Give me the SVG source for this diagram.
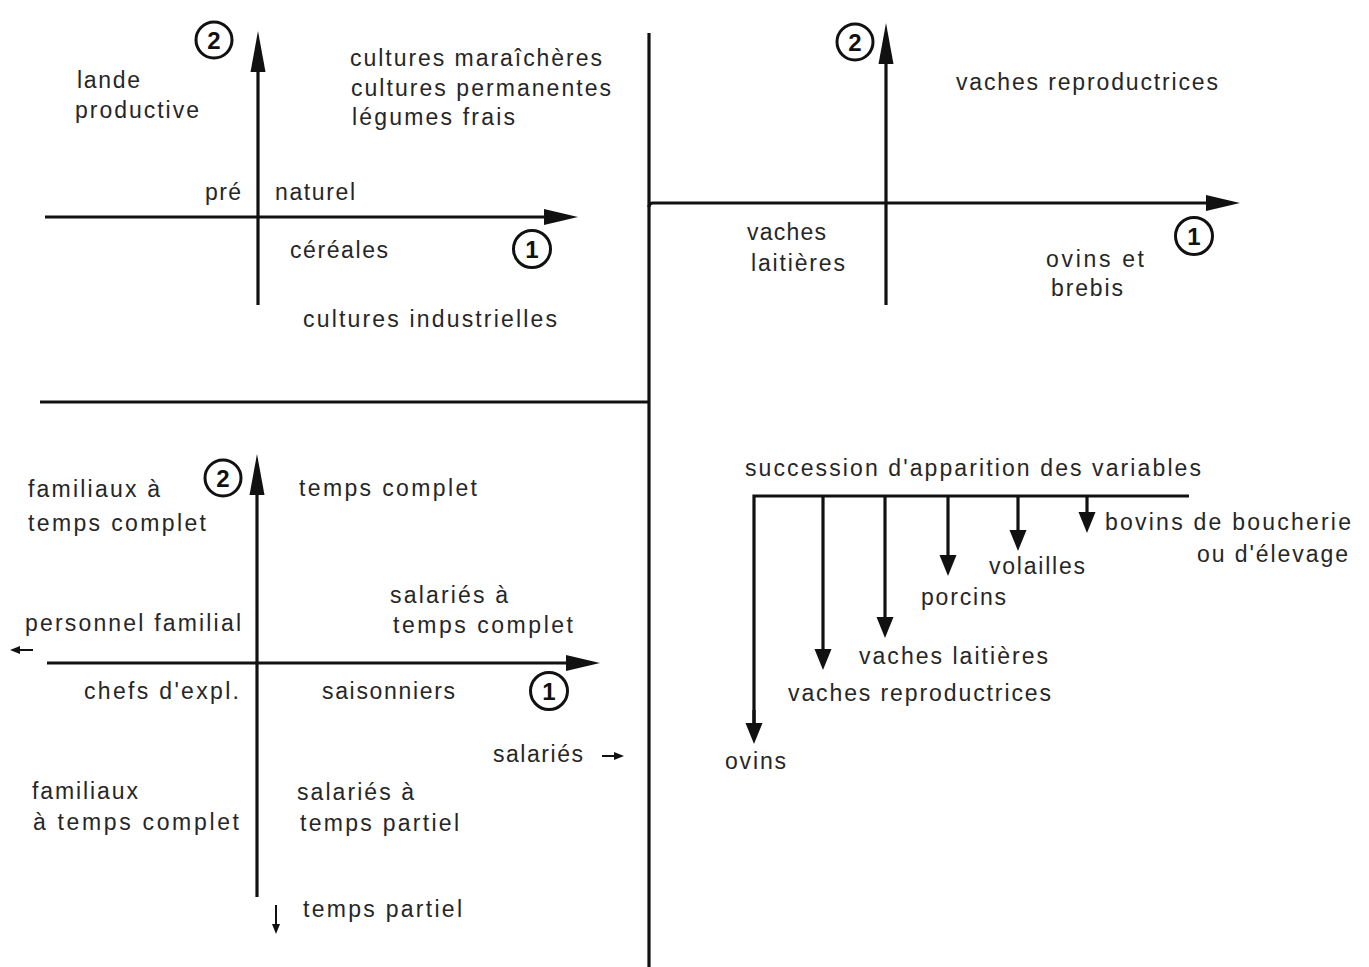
<svg xmlns="http://www.w3.org/2000/svg" width="1369" height="967" viewBox="0 0 1369 967">
<style>
text{font-family:"Liberation Sans",Arial,sans-serif;font-size:23px;fill:#262626}
.num{font-size:24px;font-weight:bold;fill:#111;text-anchor:middle}
.ln{stroke:#111;stroke-width:3.2;fill:none}
.thin{stroke:#111;stroke-width:2;fill:none}
.circ{stroke:#111;stroke-width:3;fill:#fff}
</style>
<defs>
<marker id="ah" markerUnits="userSpaceOnUse" markerWidth="40" markerHeight="20" viewBox="0 -10 40 20" refX="1" refY="0" orient="auto"><path d="M0,-8 L34,0 L0,8 Z" fill="#111"/></marker>
<marker id="av" markerUnits="userSpaceOnUse" markerWidth="44" markerHeight="20" viewBox="0 -10 44 20" refX="1" refY="0" orient="auto"><path d="M0,-7.5 L41,0 L0,7.5 Z" fill="#111"/></marker>
<marker id="drop" markerUnits="userSpaceOnUse" markerWidth="24" markerHeight="20" viewBox="0 -10 24 20" refX="1" refY="0" orient="auto"><path d="M0,-8.5 L21,0 L0,8.5 Z" fill="#111"/></marker>
<marker id="tiny" markerUnits="userSpaceOnUse" markerWidth="12" markerHeight="12" viewBox="0 -6 12 12" refX="1" refY="0" orient="auto"><path d="M0,-4 L10,0 L0,4 Z" fill="#111"/></marker>
</defs>

<g id="connectors">
<path class="ln" d="M649,33 V967"/>
<path class="ln" d="M40,402 H649"/>
<path class="ln" d="M45,217 H545" marker-end="url(#ah)"/>
<path class="ln" d="M258,305 V71" marker-end="url(#av)"/>
<path class="ln" d="M649,207 Q649,203 653,203 H1207" marker-end="url(#ah)"/>
<path class="ln" d="M886,305 V63" marker-end="url(#av)"/>
<path class="ln" d="M47,663 H567" marker-end="url(#ah)"/>
<path class="ln" d="M257,897 V494" marker-end="url(#av)"/>
<path class="thin" d="M33,650 H19" marker-end="url(#tiny)"/>
<path class="thin" d="M602,756 H615" marker-end="url(#tiny)"/>
<path class="thin" d="M276,905 V925" marker-end="url(#tiny)"/>
<path class="ln" d="M754,724 V496 H1189"/>
<path class="ln" d="M754,710 V724" marker-end="url(#drop)"/>
<path class="ln" d="M823,496 V650" marker-end="url(#drop)"/>
<path class="ln" d="M885,496 V618" marker-end="url(#drop)"/>
<path class="ln" d="M948,496 V556" marker-end="url(#drop)"/>
<path class="ln" d="M1018,496 V531" marker-end="url(#drop)"/>
<path class="ln" d="M1087,496 V513" marker-end="url(#drop)"/>
</g>

<g id="axis-labels">
<g id="tl-2"><circle class="circ" cx="214" cy="40" r="18"/><text class="num" x="214" y="48.5">2</text></g>
<g id="tl-1"><circle class="circ" cx="532" cy="249" r="18.5"/><text class="num" x="532" y="257.5">1</text></g>
<g id="tr-2"><circle class="circ" cx="855" cy="42" r="18"/><text class="num" x="855" y="50.5">2</text></g>
<g id="tr-1"><circle class="circ" cx="1194" cy="236" r="18.5"/><text class="num" x="1194" y="244.5">1</text></g>
<g id="bl-2"><circle class="circ" cx="223" cy="478" r="18"/><text class="num" x="223" y="486.5">2</text></g>
<g id="bl-1"><circle class="circ" cx="549" cy="691" r="18.5"/><text class="num" x="549" y="699.5">1</text></g>
</g>

<g id="top-left-labels">
<text x="77" y="88" textLength="63" lengthAdjust="spacing">lande</text>
<text x="75" y="118" textLength="124" lengthAdjust="spacing">productive</text>
<text x="350" y="66" textLength="252" lengthAdjust="spacing">cultures maraîchères</text>
<text x="351" y="96" textLength="260" lengthAdjust="spacing">cultures permanentes</text>
<text x="352" y="125" textLength="163" lengthAdjust="spacing">légumes frais</text>
<text x="205" y="200" textLength="36" lengthAdjust="spacing">pré</text>
<text x="275" y="200" textLength="80" lengthAdjust="spacing">naturel</text>
<text x="290" y="258" textLength="98" lengthAdjust="spacing">céréales</text>
<text x="303" y="327" textLength="254" lengthAdjust="spacing">cultures industrielles</text>
</g>

<g id="top-right-labels">
<text x="956" y="90" textLength="262" lengthAdjust="spacing">vaches reproductrices</text>
<text x="747" y="240" textLength="79" lengthAdjust="spacing">vaches</text>
<text x="751" y="271" textLength="94" lengthAdjust="spacing">laitières</text>
<text x="1046" y="267" textLength="98" lengthAdjust="spacing">ovins et</text>
<text x="1051" y="296" textLength="72" lengthAdjust="spacing">brebis</text>
</g>

<g id="bottom-left-labels">
<text x="28" y="497" textLength="132" lengthAdjust="spacing">familiaux à</text>
<text x="28" y="531" textLength="178" lengthAdjust="spacing">temps complet</text>
<text x="299" y="496" textLength="178" lengthAdjust="spacing">temps complet</text>
<text x="390" y="603" textLength="118" lengthAdjust="spacing">salariés à</text>
<text x="393" y="633" textLength="180" lengthAdjust="spacing">temps complet</text>
<text x="25" y="631" textLength="216" lengthAdjust="spacing">personnel familial</text>
<text x="84" y="699" textLength="155" lengthAdjust="spacing">chefs d'expl.</text>
<text x="322" y="699" textLength="133" lengthAdjust="spacing">saisonniers</text>
<text x="493" y="762" textLength="90" lengthAdjust="spacing">salariés</text>
<text x="32" y="799" textLength="106" lengthAdjust="spacing">familiaux</text>
<text x="33" y="830" textLength="206" lengthAdjust="spacing">à temps complet</text>
<text x="297" y="800" textLength="117" lengthAdjust="spacing">salariés à</text>
<text x="300" y="831" textLength="159" lengthAdjust="spacing">temps partiel</text>
<text x="303" y="917" textLength="159" lengthAdjust="spacing">temps partiel</text>
</g>

<g id="succession-labels">
<text x="745" y="476" textLength="456" lengthAdjust="spacing">succession d'apparition des variables</text>
<text x="1105" y="530" textLength="246" lengthAdjust="spacing">bovins de boucherie</text>
<text x="1197" y="562" textLength="151" lengthAdjust="spacing">ou d'élevage</text>
<text x="989" y="574" textLength="96" lengthAdjust="spacing">volailles</text>
<text x="921" y="605" textLength="85" lengthAdjust="spacing">porcins</text>
<text x="859" y="664" textLength="189" lengthAdjust="spacing">vaches laitières</text>
<text x="788" y="701" textLength="263" lengthAdjust="spacing">vaches reproductrices</text>
<text x="725" y="769" textLength="61" lengthAdjust="spacing">ovins</text>
</g>
</svg>
